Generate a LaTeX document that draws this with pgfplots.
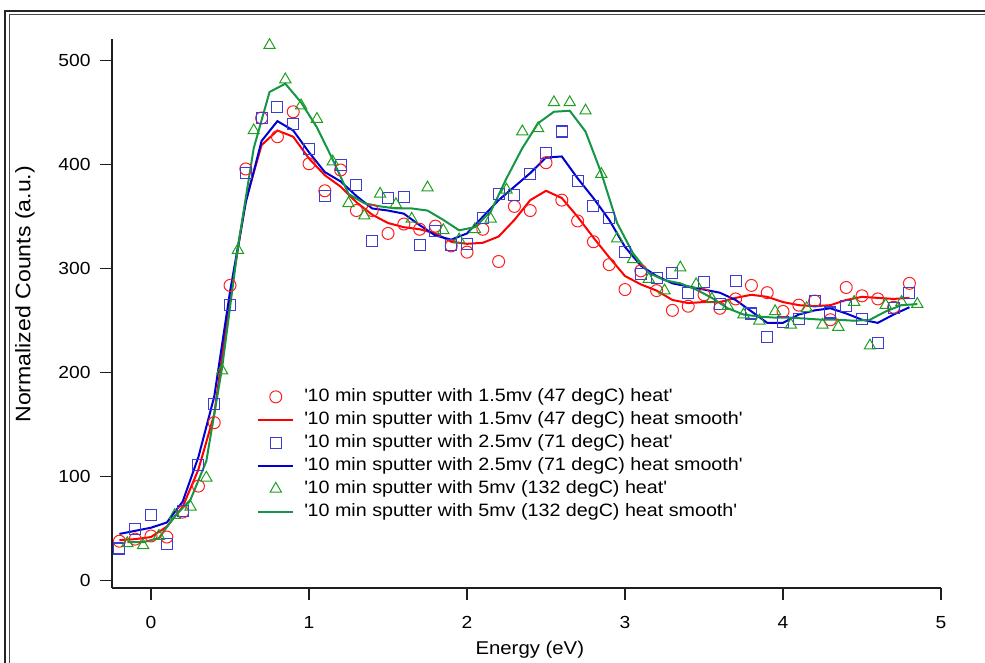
\documentclass[border=0pt]{standalone}
\usepackage{pgfplots}
\pgfplotsset{compat=1.18}
\usepackage{fontspec}
\setmainfont{Liberation Sans}[FakeStretch=1.1]
\definecolor{cred}{RGB}{255,30,30}
\definecolor{credl}{RGB}{255,0,0}
\definecolor{cblue}{RGB}{60,60,215}
\definecolor{cbluel}{RGB}{0,0,210}
\definecolor{cgreen}{RGB}{30,160,30}
\definecolor{cgreenl}{RGB}{20,150,70}
\definecolor{axcol}{RGB}{30,30,30}
\newcommand{\q}{\textquotesingle}
\begin{document}
\begin{tikzpicture}[x=1bp,y=1bp]
\useasboundingbox (0,0) rectangle (985,663);
\draw[line width=1.6bp, black!85] (5,0) -- (5,652) -- (985,652);
\draw[line width=0.9bp, black!70] (9,0) -- (9,648.5) -- (985,648.5);
\begin{axis}[
  at={(112bp,75bp)}, anchor=south west,
  scale only axis, width=829bp, height=549bp,
  xmin=-0.247, xmax=5, ymin=-7, ymax=521,
  axis x line*=bottom, axis y line*=left,
  axis line style={line width=1.5bp, axcol},
  tick align=outside, major tick length=12bp,
  every tick/.style={line width=1.3bp, axcol},
  xtick={0,1,2,3,4,5}, ytick={0,100,200,300,400,500},
  minor tick num=0,
  /pgf/number format/assume math mode=true,
  tick label style={font=\fontsize{17.5bp}{20bp}\selectfont},
  xticklabel style={yshift=-13bp},
  yticklabel style={xshift=-6bp},
  xlabel={Energy (eV)}, ylabel={Normalized Counts (a.u.)},
  xlabel style={font=\fontsize{18.5bp}{21bp}\selectfont, at={(axis description cs:0.504,-0.113)}, anchor=center},
  ylabel style={font=\fontsize{21bp}{24bp}\selectfont, at={(axis description cs:-0.105,0.535)}, anchor=center},
  legend style={at={(axis description cs:0.175,0.364)}, anchor=north west,
    draw=none, fill=none, inner sep=0pt, row sep=6bp,
    font=\fontsize{17.9bp}{21bp}\selectfont,
    nodes={inner sep=0pt, text height=13bp, text depth=4bp}},
  legend cell align=left,
  legend image code/.code={\draw[mark repeat=2,mark phase=2,#1] plot coordinates {(0bp,0bp) (17.5bp,0bp) (35bp,0bp)}; \path (0bp,0bp) (45bp,0bp);},
  clip=false,
]
\addplot[only marks, mark=o, mark size=6bp, color=cred, mark options={line width=1bp}] table {
-0.2 38
-0.1 40
0.0 43
0.1 42
0.2 66
0.3 91
0.4 152
0.5 284
0.6 396
0.7 445
0.8 427
0.9 451
1.0 401
1.1 375
1.2 395
1.3 356
1.4 356
1.5 334
1.6 343
1.7 338
1.8 341
1.9 322
2.0 316
2.1 338
2.2 307
2.3 360
2.4 356
2.5 402
2.6 366
2.7 346
2.8 326
2.9 304
3.0 280
3.1 298
3.2 279
3.3 260
3.4 264
3.5 275
3.6 262
3.7 271
3.8 284
3.9 277
4.0 259
4.1 265
4.2 269
4.3 251
4.4 282
4.5 274
4.6 271
4.7 263
4.8 286
};
\addlegendentry{\q10 min sputter with 1.5mv (47 degC) heat\q}
\addplot[no marks, line width=2bp, color=credl] table {
-0.2 39
-0.1 40
0.0 42
0.1 52
0.2 71
0.3 107
0.4 160
0.5 272
0.6 366
0.7 419
0.8 433
0.9 427
1.0 406
1.1 390
1.2 379
1.3 364
1.4 352
1.5 344
1.6 340
1.7 338
1.8 334
1.9 326
2.0 324
2.1 325
2.2 331
2.3 347
2.4 366
2.5 375
2.6 368
2.7 350
2.8 330
2.9 311
3.0 293
3.1 285
3.2 279
3.3 270
3.4 267
3.5 268
3.6 268
3.7 272
3.8 275
3.9 273
4.0 268
4.1 265
4.2 264
4.3 265
4.4 270
4.5 273
4.6 272
4.7 271
4.8 272
};
\addlegendentry{\q10 min sputter with 1.5mv (47 degC) heat smooth\q}
\addplot[only marks, mark=square, mark size=5.5bp, color=cblue, mark options={line width=1.1bp}] table {
-0.2 31
-0.1 50
0.0 63
0.1 35
0.2 67
0.3 111
0.4 170
0.5 265
0.6 392
0.7 445
0.8 456
0.9 439
1.0 415
1.1 370
1.2 400
1.3 381
1.4 327
1.5 368
1.6 369
1.7 323
1.8 336
1.9 323
2.0 324
2.1 349
2.2 372
2.3 371
2.4 391
2.5 411
2.6 432
2.7 384
2.8 360
2.9 349
3.0 316
3.1 295
3.2 291
3.3 296
3.4 277
3.5 287
3.6 266
3.7 288
3.8 257
3.9 234
4.0 249
4.1 252
4.2 269
4.3 258
4.4 264
4.5 252
4.6 229
4.7 262
4.8 277
};
\addlegendentry{\q10 min sputter with 2.5mv (71 degC) heat\q}
\addplot[no marks, line width=2bp, color=cbluel] table {
-0.2 45
-0.1 48
0.0 51
0.1 56
0.2 76
0.3 119
0.4 177
0.5 278
0.6 364
0.7 423
0.8 442
0.9 433
1.0 412
1.1 393
1.2 384
1.3 370
1.4 358
1.5 356
1.6 353
1.7 342
1.8 332
1.9 328
2.0 334
2.1 350
2.2 366
2.3 379
2.4 392
2.5 407
2.6 408
2.7 387
2.8 368
2.9 347
3.0 321
3.1 303
3.2 293
3.3 286
3.4 283
3.5 280
3.6 277
3.7 270
3.8 259
3.9 248
4.0 248
4.1 256
4.2 260
4.3 262
4.4 257
4.5 251
4.6 248
4.7 256
4.8 263
};
\addlegendentry{\q10 min sputter with 2.5mv (71 degC) heat smooth\q}
\addplot[only marks, mark=triangle, mark size=6.5bp, color=cgreen, mark options={line width=1bp}] table {
-0.15 36
-0.05 34
0.05 43
0.15 63
0.25 71
0.35 99
0.45 202
0.55 318
0.65 433
0.75 515
0.85 482
0.95 457
1.05 444
1.15 403
1.25 363
1.35 351
1.45 372
1.55 362
1.65 348
1.75 378
1.85 337
1.95 328
2.05 338
2.15 348
2.25 376
2.35 432
2.45 435
2.55 460
2.65 460
2.75 452
2.85 391
2.95 329
3.05 309
3.15 290
3.25 279
3.35 301
3.45 285
3.55 271
3.65 264
3.75 256
3.85 250
3.95 259
4.05 246
4.15 262
4.25 246
4.35 244
4.45 268
4.55 226
4.65 265
4.75 268
4.85 266
};
\addlegendentry{\q10 min sputter with 5mv (132 degC) heat\q}
\addplot[no marks, line width=2bp, color=cgreenl] table {
-0.15 37
-0.05 37
0.05 41
0.15 62
0.25 78
0.35 115
0.45 205
0.55 321
0.65 416
0.75 470
0.85 478
0.95 460
1.05 436
1.15 405
1.25 372
1.35 363
1.45 360
1.55 358
1.65 358
1.75 356
1.85 347
1.95 337
2.05 340
2.15 355
2.25 387
2.35 416
2.45 440
2.55 451
2.65 452
2.75 432
2.85 392
2.95 344
3.05 315
3.15 296
3.25 289
3.35 286
3.45 280
3.55 272
3.65 262
3.75 256
3.85 254
3.95 253
4.05 253
4.15 252
4.25 251
4.35 251
4.45 250
4.55 251
4.65 259
4.75 265
4.85 266
};
\addlegendentry{\q10 min sputter with 5mv (132 degC) heat smooth\q}
\end{axis}
\end{tikzpicture}
\end{document}
